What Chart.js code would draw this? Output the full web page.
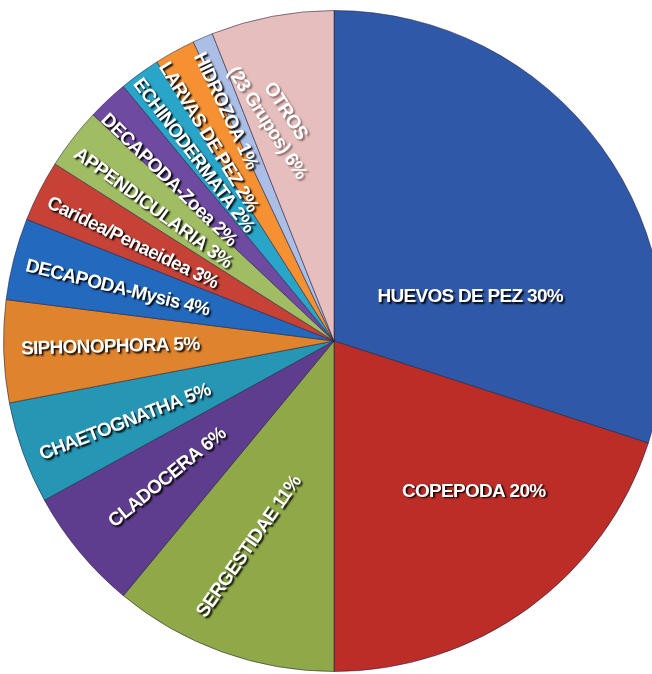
<!DOCTYPE html>
<html>
<head>
<meta charset="utf-8">
<title>Composición del zooplancton</title>
<script src="https://cdn.jsdelivr.net/npm/chart.js@4.4.1/dist/chart.umd.min.js"></script>
<style>
  html, body { margin: 0; padding: 0; background: #ffffff; overflow: hidden; width: 652px; height: 674px; }
  #wrap { position: absolute; left: 3px; top: 10px; width: 662px; height: 662px; }
</style>
</head>
<body>
<div id="wrap"><canvas id="pie" width="662" height="662"></canvas></div>
<script>
// Grupos taxonómicos, en sentido horario desde las 12
const categories = [
  'HUEVOS DE PEZ', 'COPEPODA', 'SERGESTIDAE', 'CLADOCERA', 'CHAETOGNATHA',
  'SIPHONOPHORA', 'DECAPODA-Mysis', 'Caridea/Penaeidea', 'APPENDICULARIA',
  'DECAPODA-Zoea', 'ECHINODERMATA', 'LARVAS DE PEZ', 'HIDROZOA', 'OTROS\n(23 Grupos)'
];
// Porcentaje de cada grupo
const percentages = [30, 20, 11, 6, 5, 5, 4, 3, 3, 2, 2, 2, 1, 6];

// Colores de los sectores
const sliceColors = [
  '#2f58a8', '#bd2d28', '#90a948', '#5f3d8e', '#2596b4',
  '#e0832d', '#2369be', '#c64237', '#a0bd64', '#6e4ba0',
  '#28a5c8', '#f59132', '#aabee6', '#e6bebe'
];

// Colocación de las etiquetas: desplazamiento angular (grados) respecto al centro
// del sector, radio relativo y giro fijo (null = orientada hacia el centro)
const labelLayout = [
  { dAng: 18.1, r: 0.433, rot: 0 },
  { dAng: -6.9, r: 0.621, rot: 0 },
  { dAng: 2.6,  r: 0.673, rot: -55 },
  { dAng: 0.2,  r: 0.652, rot: null },
  { dAng: -1.5, r: 0.678, rot: null },
  { dAng: 0.3,  r: 0.677, rot: null },
  { dAng: -0.7, r: 0.674, rot: null },
  { dAng: -1.1, r: 0.678, rot: null },
  { dAng: -1.6, r: 0.680, rot: null },
  { dAng: -2.6, r: 0.698, rot: null },
  { dAng: -1.2, r: 0.704, rot: null },
  { dAng: -2.9, r: 0.725, rot: null },
  { dAng: -1.9, r: 0.770, rot: null },
  { dAng: -3.7, r: 0.700, rot: 57 }
];

const sliceLabels = {
  id: 'sliceLabels',
  afterDatasetsDraw(chart) {
    const ctx = chart.ctx;
    const meta = chart.getDatasetMeta(0);
    ctx.save();
    ctx.font = 'bold 19px "Liberation Sans", Arial, sans-serif';
    ctx.letterSpacing = '-0.7px';
    ctx.textAlign = 'center';
    ctx.textBaseline = 'middle';
    meta.data.forEach((arc, i) => {
      const p = arc.getProps(['x', 'y', 'startAngle', 'endAngle', 'outerRadius'], true);
      const lay = labelLayout[i];
      const mid = (p.startAngle + p.endAngle) / 2 + lay.dAng * Math.PI / 180;
      const px = p.x + Math.cos(mid) * p.outerRadius * lay.r;
      const py = p.y + Math.sin(mid) * p.outerRadius * lay.r;
      const rot = lay.rot === null ? mid - Math.PI : lay.rot * Math.PI / 180;
      const lines = (categories[i] + ' ' + percentages[i] + '%').split('\n');
      const lineH = 22;
      const isOther = i === categories.length - 1;
      ctx.save();
      ctx.translate(px, py);
      ctx.rotate(rot);
      ctx.shadowColor = isOther ? 'rgba(110,80,80,0.75)' : 'rgba(0,0,0,0.95)';
      ctx.shadowOffsetX = 1.8;
      ctx.shadowOffsetY = 1.8;
      ctx.shadowBlur = 1.8;
      ctx.fillStyle = '#ffffff';
      lines.forEach((ln, k) => {
        const dy = (k - (lines.length - 1) / 2) * lineH;
        ctx.fillText(ln, 0, dy);
      });
      ctx.restore();
    });
    ctx.restore();
  }
};

new Chart(document.getElementById('pie'), {
  type: 'pie',
  data: {
    labels: categories,
    datasets: [{
      data: percentages,
      backgroundColor: sliceColors,
      borderColor: 'rgba(35,30,60,0.55)',
      borderWidth: 1
    }]
  },
  options: {
    responsive: false,
    animation: false,
    layout: { padding: 0 },
    plugins: {
      legend: { display: false },
      tooltip: { enabled: false }
    }
  },
  plugins: [sliceLabels]
});
</script>
</body>
</html>
